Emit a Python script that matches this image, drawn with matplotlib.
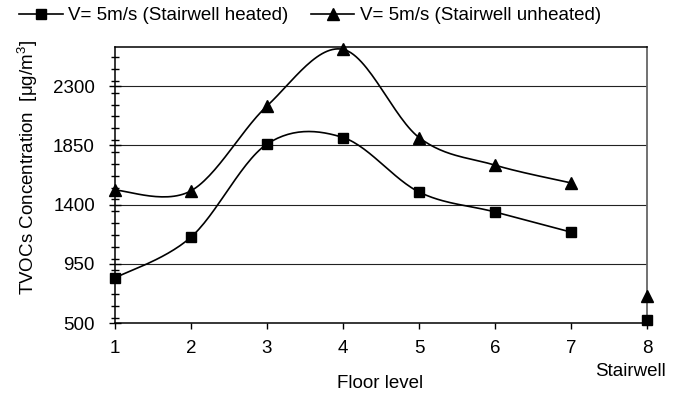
import numpy as np
import matplotlib.pyplot as plt
from matplotlib.lines import Line2D
from matplotlib.ticker import MultipleLocator, FixedLocator

plt.rcParams['font.family'] = ['Liberation Sans', 'DejaVu Sans']

floors = [1, 2, 3, 4, 5, 6, 7]
heated = [843, 1153, 1860, 1910, 1496, 1344, 1191]
unheated = [1510, 1505, 2150, 2580, 1910, 1700, 1565]
stair_x = 8
stair_heated = 523
stair_unheated = 703

labels = ['V= 5m/s (Stairwell heated)', 'V= 5m/s (Stairwell unheated)']
y_ticks = [500, 950, 1400, 1850, 2300]

FS = 13.5


def smooth(xs, ys, n=30):
    # cubic Bezier between points, tangents taken from the neighbours
    p = np.column_stack([xs, ys]).astype(float)
    out = [p[0]]
    t = np.linspace(0, 1, n)[1:, None]
    for i in range(len(p) - 1):
        p0 = p[i - 1] if i > 0 else p[i]
        p3 = p[i + 2] if i + 2 < len(p) else p[i + 1]
        c1 = p[i] + (p[i + 1] - p0) / 6
        c2 = p[i + 1] - (p3 - p[i]) / 6
        seg = ((1 - t) ** 3 * p[i] + 3 * (1 - t) ** 2 * t * c1
               + 3 * (1 - t) * t ** 2 * c2 + t ** 3 * p[i + 1])
        out.extend(seg)
    out = np.array(out)
    return out[:, 0], out[:, 1]


fig = plt.figure(figsize=(6.83, 3.96), dpi=100)
ax = fig.add_axes([0.1684, 0.1843, 0.7789, 0.6977])

lw = 1.2
for ys, sy, m, ms in [(heated, stair_heated, 's', 7), (unheated, stair_unheated, '^', 8)]:
    sx, syy = smooth(floors, ys)
    ax.plot(sx, syy, color='black', lw=lw, zorder=3)
    ax.plot(floors + [stair_x], ys + [sy], ls='none', marker=m, ms=ms,
            color='black', zorder=4, clip_on=False)

ax.set_xlim(1, 8)
ax.set_ylim(500, 2600)
ax.set_xticks(range(1, 9))
ax.yaxis.set_major_locator(FixedLocator(y_ticks))
ax.yaxis.set_minor_locator(MultipleLocator(90))
for y in y_ticks[1:]:
    ax.axhline(y, color='#222222', lw=0.8, zorder=1)

ax.tick_params(axis='y', which='major', direction='inout', length=9, width=1,
               labelsize=FS, pad=10)
ax.tick_params(axis='y', which='minor', direction='inout', length=6, width=1)
ax.tick_params(axis='x', which='major', direction='out', length=4.5, width=1,
               labelsize=FS, pad=8)

for s in ['left', 'bottom', 'top']:
    ax.spines[s].set_linewidth(1.1)
    ax.spines[s].set_color('black')
ax.spines['right'].set_color('#666666')
ax.spines['right'].set_linewidth(1.3)

fig.text(630 / 683, 1 - 371 / 396, 'Stairwell', ha='center', va='center', fontsize=FS)
fig.text(380 / 683, 1 - 383 / 396, 'Floor level', ha='center', va='center', fontsize=FS)
fig.text(28 / 683, 1 - 167 / 396,
         r'TVOCs Concentration  [$\mathregular{\mu}$g/m$^{\mathregular{3}}$]',
         rotation=90, ha='center', va='center', fontsize=FS)

handles = [Line2D([], [], color='black', lw=lw, marker='s', ms=7),
           Line2D([], [], color='black', lw=lw, marker='^', ms=8)]
fig.legend(handles, labels, loc='upper left', bbox_to_anchor=(0.012, 1.01), ncol=2,
           frameon=False, fontsize=FS, handlelength=2.3, handletextpad=0.3,
           columnspacing=1.2, borderaxespad=0.2)

fig.savefig('out.png', dpi=100)
